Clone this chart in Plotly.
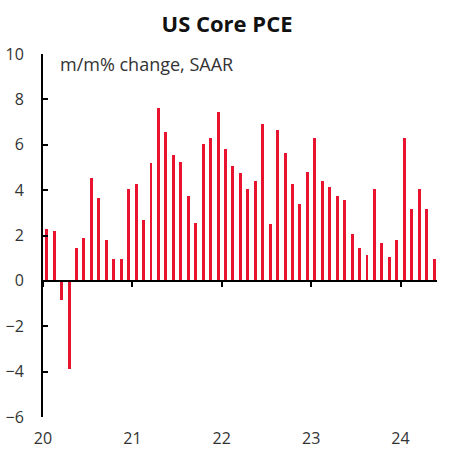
import plotly.graph_objects as go

months = [f"{y}-{m:02d}" for y in range(2020, 2025) for m in range(1, 13)][:53]
values = [2.3, 2.2, -0.85, -3.9, 1.45, 1.9, 4.55, 3.65, 1.8, 0.95, 0.95, 4.05,
          4.25, 2.7, 5.2, 7.6, 6.55, 5.55, 5.25, 3.75, 2.55, 6.05, 6.3, 7.45,
          5.8, 5.05, 4.75, 4.05, 4.4, 6.9, 2.5, 6.65, 5.65, 4.25, 3.4, 4.8,
          6.3, 4.4, 4.15, 3.75, 3.55, 2.05, 1.45, 1.15, 4.05, 1.65, 1.05, 1.8,
          6.3, 3.15, 4.05, 3.15, 0.95]
year_labels = ["20", "21", "22", "23", "24"]
year_tick_pos = [-0.5, 11.5, 23.5, 35.5, 47.5]
y_ticks = [-6, -4, -2, 0, 2, 4, 6, 8, 10]

x_idx = list(range(len(values)))
xrange = [-0.5, 52.4]
yrange = [-6, 10]

fig = go.Figure()
fig.add_trace(go.Bar(x=x_idx, y=values, width=0.4,
                     marker=dict(color="#E8132E", line=dict(width=0)),
                     hovertext=months, showlegend=False))

font = "Open Sans, Lato, sans-serif"
fig.update_layout(
    width=454, height=450,
    margin=dict(l=43, r=17, t=54, b=33),
    paper_bgcolor="white", plot_bgcolor="white",
    title=dict(text="<b>US Core PCE</b>", x=0.5, xanchor="center", y=0.947, yanchor="middle",
               font=dict(family=font, size=22, color="#111111")),
    bargap=0,
    xaxis=dict(range=xrange, tickmode="array", tickvals=year_tick_pos, ticktext=year_labels,
               showline=False, showgrid=False, zeroline=False, ticks="", automargin=False,
               tickfont=dict(family=font, size=16, color="#333333"), ticklabelstandoff=10),
    xaxis2=dict(range=xrange, overlaying="x", anchor="free", position=0.375, side="bottom",
                tickmode="array", tickvals=year_tick_pos, showticklabels=False,
                showline=True, linecolor="black", linewidth=2, automargin=False,
                ticks="outside", ticklen=5, tickwidth=2, tickcolor="black",
                showgrid=False, zeroline=False),
    yaxis=dict(range=yrange, tickmode="array", tickvals=y_ticks, automargin=False,
               showline=True, linecolor="black", linewidth=2,
               ticks="inside", ticklen=5, tickwidth=2, tickcolor="black",
               showgrid=False, zeroline=False,
               tickfont=dict(family=font, size=16, color="#333333"), ticklabelstandoff=14),
)
fig.add_trace(go.Scatter(x=[0], y=[0], xaxis="x2", mode="markers",
                         marker=dict(opacity=0), showlegend=False, hoverinfo="skip"))
fig.add_annotation(text="m/m% change, SAAR", xref="paper", yref="paper", x=0.038, y=1.01,
                   xanchor="left", yanchor="top", showarrow=False,
                   font=dict(family=font, size=18, color="#333333"))
fig.write_html("out.html", config={"displayModeBar": False},
               post_script="document.body.style.margin='0';")
